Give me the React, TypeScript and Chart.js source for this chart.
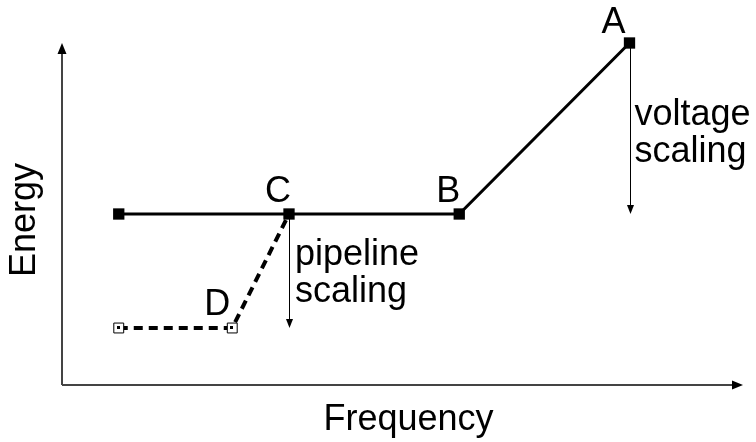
import React, { useEffect, useRef } from "react";
import { Chart, registerables } from "chart.js";

Chart.register(...registerables);

const freqMain = [1, 4, 7, 10];
const energyMain = [3, 3, 3, 6];
const freqPipe = [1, 3, 4];
const energyPipe = [1, 1, 3];
const pointLabels = ["A", "B", "C", "D"];
const xAxisTitle = "Frequency";
const yAxisTitle = "Energy";
const voltageText = ["voltage", "scaling"];
const pipelineText = ["pipeline", "scaling"];

const FONT = '36px "Liberation Sans", Arial, sans-serif';

function arrowHead(ctx: CanvasRenderingContext2D, x: number, y: number, dir: "up" | "down" | "right", len: number, half: number) {
  ctx.beginPath();
  if (dir === "up") {
    ctx.moveTo(x, y);
    ctx.lineTo(x - half, y + len);
    ctx.lineTo(x + half, y + len);
  } else if (dir === "down") {
    ctx.moveTo(x, y);
    ctx.lineTo(x - half, y - len);
    ctx.lineTo(x + half, y - len);
  } else {
    ctx.moveTo(x, y);
    ctx.lineTo(x - len, y - half);
    ctx.lineTo(x - len, y + half);
  }
  ctx.closePath();
  ctx.fill();
}

const annotPlugin = {
  id: "annot",
  beforeDatasetsDraw(chart: any) {
    const ctx = chart.ctx as CanvasRenderingContext2D;
    const { left, right, top, bottom } = chart.chartArea;
    const xs = chart.scales.x;
    const ys = chart.scales.y;
    ctx.save();
    // axes
    ctx.strokeStyle = "#444";
    ctx.fillStyle = "#000";
    ctx.lineWidth = 2;
    ctx.beginPath();
    ctx.moveTo(left, bottom);
    ctx.lineTo(left, top + 8);
    ctx.moveTo(left, bottom);
    ctx.lineTo(right - 8, bottom);
    ctx.stroke();
    arrowHead(ctx, left, top, "up", 11, 4.5);
    arrowHead(ctx, right, bottom, "right", 11, 4.5);

    // scaling arrows
    ctx.strokeStyle = "#000";
    ctx.lineWidth = 1;
    const drawDown = (xv: number, y0: number, y1: number) => {
      const px = Math.round(xs.getPixelForValue(xv)) + 0.5;
      const p0 = ys.getPixelForValue(y0);
      const p1 = ys.getPixelForValue(y1);
      ctx.beginPath();
      ctx.moveTo(px, p0);
      ctx.lineTo(px, p1 - 6);
      ctx.stroke();
      arrowHead(ctx, px, p1, "down", 9, 3.5);
    };
    drawDown(freqMain[1], energyMain[1], energyPipe[0]);
    drawDown(freqMain[3], energyMain[3], energyMain[2]);
    ctx.restore();
  },
  afterDatasetsDraw(chart: any) {
    const ctx = chart.ctx as CanvasRenderingContext2D;
    const { left, right, bottom } = chart.chartArea;
    const xs = chart.scales.x;
    const ys = chart.scales.y;
    ctx.save();
    ctx.fillStyle = "#000";
    ctx.font = FONT;
    ctx.textBaseline = "alphabetic";
    ctx.textAlign = "center";
    const px = (v: number) => xs.getPixelForValue(v);
    const py = (v: number) => ys.getPixelForValue(v);
    // point labels A, B, C, D
    ctx.fillText(pointLabels[0], px(freqMain[3]) - 16, py(energyMain[3]) - 10);
    ctx.fillText(pointLabels[1], px(freqMain[2]) - 11, py(energyMain[2]) - 12);
    ctx.fillText(pointLabels[2], px(freqMain[1]) - 11, py(energyMain[1]) - 12);
    ctx.fillText(pointLabels[3], px(freqPipe[1]) - 15, py(energyPipe[1]) - 13);
    // annotations
    ctx.textAlign = "left";
    const ax = px(freqMain[3]);
    const ay = py(energyMain[3]);
    ctx.fillText(voltageText[0], ax + 5, ay + 82);
    ctx.fillText(voltageText[1], ax + 5, ay + 119);
    const cx = px(freqMain[1]);
    const cy = py(energyMain[1]);
    ctx.fillText(pipelineText[0], cx + 6, cy + 51);
    ctx.fillText(pipelineText[1], cx + 6, cy + 88);
    // axis titles
    ctx.textAlign = "center";
    ctx.fillText(xAxisTitle, (left + right) / 2 + 6, bottom + 45);
    ctx.save();
    ctx.translate(35, 220);
    ctx.rotate(-Math.PI / 2);
    ctx.fillText(yAxisTitle, 0, 0);
    ctx.restore();
    // center dots of open markers
    ctx.fillStyle = "#000";
    for (let i = 0; i < 2; i++) {
      const x = Math.round(px(freqPipe[i]));
      const y = Math.round(py(energyPipe[i]));
      ctx.fillRect(x - 2, y - 2, 3, 3);
    }
    ctx.restore();
  },
};

export default function App() {
  const ref = useRef<HTMLCanvasElement | null>(null);
  useEffect(() => {
    document.body.style.margin = "0";
    const canvas = ref.current!;
    const chart = new Chart(canvas, {
      type: "scatter",
      data: {
        datasets: [
          {
            data: freqPipe.map((f, i) => ({ x: f, y: energyPipe[i] })),
            showLine: true,
            borderColor: "#000",
            borderWidth: 4,
            borderDash: [9, 6],
            pointStyle: "rect",
            pointRadius: [7, 7, 0],
            pointBackgroundColor: "#fff",
            pointBorderColor: "#000",
            pointBorderWidth: 1,
            clip: false as any,
          },
          {
            data: freqMain.map((f, i) => ({ x: f, y: energyMain[i] })),
            showLine: true,
            borderColor: "#000",
            borderWidth: 3,
            pointStyle: "rect",
            pointRadius: 8,
            pointBackgroundColor: "#000",
            pointBorderColor: "#000",
            pointBorderWidth: 0,
            clip: false as any,
          },
        ],
      },
      options: {
        animation: false,
        responsive: false,
        layout: { padding: { left: 62, right: 13, top: 43, bottom: 57 } },
        scales: {
          x: { type: "linear", min: 0, max: 12, display: false },
          y: { type: "linear", min: 0, max: 6, display: false },
        },
        plugins: { legend: { display: false }, tooltip: { enabled: false } },
      },
      plugins: [annotPlugin],
    });
    return () => chart.destroy();
  }, []);
  return (
    <div style={{ width: 756, height: 442, background: "#fff" }}>
      <canvas ref={ref} width={756} height={442} style={{ display: "block" }} />
    </div>
  );
}
